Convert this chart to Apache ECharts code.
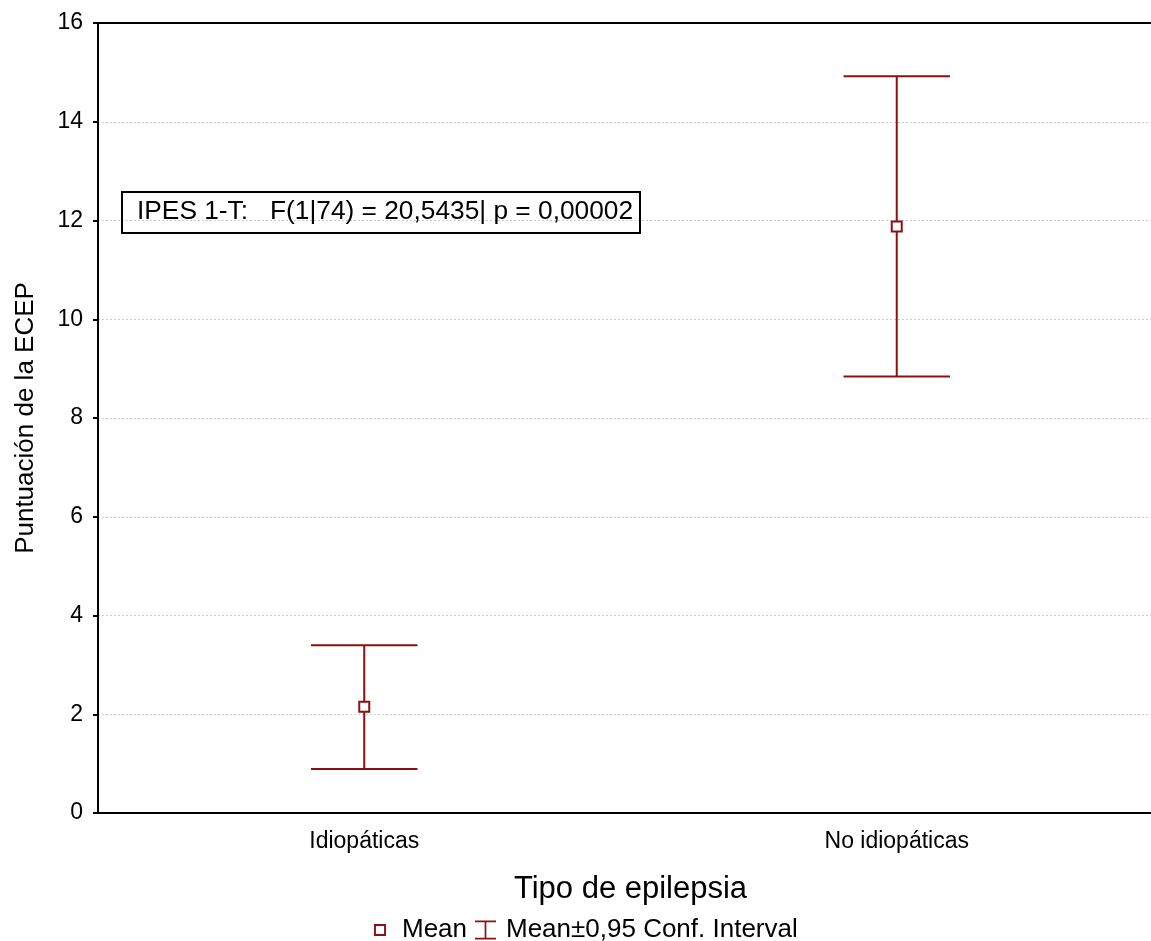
<!DOCTYPE html>
<html>
<head>
<meta charset="utf-8">
<script src="https://cdn.jsdelivr.net/npm/echarts@6/dist/echarts.min.js"></script>
<style>
  html, body { margin: 0; padding: 0; background: #fff; }
  #chart { width: 1151px; height: 941px; }
</style>
</head>
<body>
<div id="chart"></div>
<script>
// Group categories and summary statistics
const categories = ['Idiopáticas', 'No idiopáticas'];
const means = [2.15, 11.88];
const ciLower = [0.89, 8.84];
const ciUpper = [3.40, 14.92];
const yTicks = { min: 0, max: 16, interval: 2 };
const statText = 'IPES 1-T:   F(1|74) = 20,5435| p = 0,00002';

const RED = '#8b1111';
const FONT = 'Liberation Sans, Arial, sans-serif';
// Legend glyphs: hollow square for the mean, I-beam for the interval
const SQUARE_ICON = 'path://M0,0h10v10h-10zM1.6,1.6v6.8h6.8v-6.8z';
const IBEAM_ICON = 'path://M0,0h20v1.6h-9.2v14.8h9.2v1.6h-20v-1.6h9.2v-14.8h-9.2z';

const chart = echarts.init(document.getElementById('chart'), null, { renderer: 'canvas' });

const ciData = categories.map((c, i) => [i, ciLower[i], ciUpper[i]]);
const meanData = categories.map((c, i) => [i, means[i]]);

const legendText = { fontFamily: FONT, fontSize: 26, lineHeight: 26, color: '#000' };

chart.setOption({
  backgroundColor: '#fff',
  animation: false,
  textStyle: { fontFamily: FONT, color: '#000' },
  title: {
    text: statText,
    left: 122, top: 192,
    padding: [7, 7, 8, 15],
    borderColor: '#000', borderWidth: 2,
    textStyle: { fontFamily: FONT, fontSize: 26.3, fontWeight: 'normal', color: '#000' }
  },
  legend: [
    {
      left: 374, top: 917, padding: 0,
      itemWidth: 12, itemHeight: 12,
      textStyle: Object.assign({ padding: [0, 0, 0, 11] }, legendText),
      data: [{ name: 'Mean', icon: SQUARE_ICON, itemStyle: { color: RED, borderWidth: 0 } }]
    },
    {
      left: 475, top: 917, padding: 0,
      itemWidth: 21, itemHeight: 19,
      textStyle: Object.assign({ padding: [0, 0, 0, 5] }, legendText),
      data: [{ name: 'Mean±0,95 Conf. Interval', icon: IBEAM_ICON, itemStyle: { color: RED, borderWidth: 0 } }]
    }
  ],
  grid: { left: 98, top: 23, right: -12, bottom: 128, outerBoundsMode: 'none', containLabel: false },
  xAxis: [
    {
      type: 'category', data: categories, position: 'bottom',
      name: 'Tipo de epilepsia', nameLocation: 'middle', nameGap: 61,
      nameTextStyle: { fontFamily: FONT, fontSize: 31, color: '#000' },
      axisLine: { lineStyle: { color: '#000', width: 2 } },
      axisTick: { inside: true, length: 5, alignWithLabel: true, lineStyle: { color: '#000', width: 2 } },
      axisLabel: { fontFamily: FONT, fontSize: 23, color: '#000', margin: 17 },
      splitLine: { show: false }
    },
    {
      type: 'category', data: categories, position: 'top',
      axisLine: { lineStyle: { color: '#000', width: 2 } },
      axisTick: { inside: true, length: 5, alignWithLabel: true, lineStyle: { color: '#000', width: 2 } },
      axisLabel: { show: false },
      splitLine: { show: false }
    }
  ],
  yAxis: {
    type: 'value', min: yTicks.min, max: yTicks.max, interval: yTicks.interval,
    name: 'Puntuación de la ECEP', nameLocation: 'middle', nameGap: 59,
    nameTextStyle: { fontFamily: FONT, fontSize: 26, color: '#000' },
    axisLine: { show: true, lineStyle: { color: '#000', width: 2 } },
    axisTick: { show: true, inside: false, length: 5, lineStyle: { color: '#000', width: 2 } },
    axisLabel: { fontFamily: FONT, fontSize: 23, color: '#000', margin: 15 },
    splitLine: { show: true, lineStyle: { color: '#cfcfcf', type: [2, 2], width: 1 } }
  },
  series: [
    {
      name: 'Mean±0,95 Conf. Interval',
      type: 'custom',
      itemStyle: { color: RED },
      data: ciData,
      z: 2,
      renderItem: function (params, api) {
        const x = api.value(0);
        const lo = api.coord([x, api.value(1)]);
        const hi = api.coord([x, api.value(2)]);
        const half = api.size([1, 0])[0] * 0.1;
        const style = { stroke: RED, lineWidth: 2 };
        return {
          type: 'group',
          children: [
            { type: 'line', shape: { x1: hi[0], y1: hi[1], x2: lo[0], y2: lo[1] }, style: style },
            { type: 'line', shape: { x1: hi[0] - half, y1: hi[1], x2: hi[0] + half, y2: hi[1] }, style: style },
            { type: 'line', shape: { x1: lo[0] - half, y1: lo[1], x2: lo[0] + half, y2: lo[1] }, style: style }
          ]
        };
      }
    },
    {
      name: 'Mean',
      type: 'scatter',
      data: meanData,
      symbol: 'rect',
      symbolSize: 10,
      z: 3,
      itemStyle: { color: '#fff', borderColor: RED, borderWidth: 2, opacity: 1 }
    }
  ]
});
</script>
</body>
</html>
